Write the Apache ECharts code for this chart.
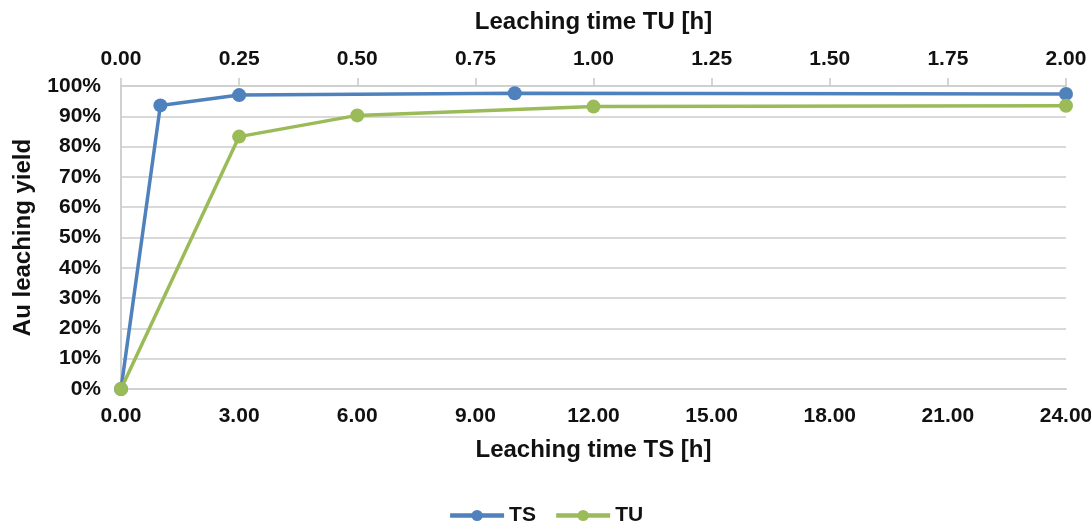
<!DOCTYPE html>
<html><head><meta charset="utf-8">
<script src="https://cdn.jsdelivr.net/npm/echarts@6/dist/echarts.min.js"></script>
<style>html,body{margin:0;padding:0;background:#fff}#c{width:1091px;height:525px}</style>
</head><body><div id="c"></div>
<script>
const tsTime = [0, 1, 3, 10, 24];          // Leaching time TS [h] (bottom axis)
const tsYield = [0, 93.6, 97.0, 97.6, 97.4]; // %
const tuTime = [0, 0.25, 0.5, 1, 2];        // Leaching time TU [h] (top axis)
const tuYield = [0, 83.3, 90.3, 93.2, 93.5]; // %

const font = 'Liberation Sans, Arial, sans-serif';
const lbl = {fontFamily: font, fontWeight: 'bold', fontSize: 21, color: '#111'};
const ttl = {fontFamily: font, fontWeight: 'bold', fontSize: 24, color: '#111'};
const chart = echarts.init(document.getElementById('c'));
chart.setOption({
  animation: false,
  grid: {left: 121, right: 25, top: 86, bottom: 136, outerBoundsMode: 'none', containLabel: false},
  legend: {
    bottom: -6, left: 'center', itemWidth: 54, itemHeight: 14, itemGap: 18,
    lineStyle: {width: 4.5},
    textStyle: {fontFamily: font, fontWeight: 'bold', fontSize: 21, color: '#111'},
    data: ['TS', 'TU']
  },
  xAxis: [
    {type: 'value', position: 'bottom', min: 0, max: 24, interval: 3,
     name: 'Leaching time TS [h]', nameLocation: 'middle', nameGap: 49,
     nameTextStyle: ttl,
     axisLine: {show: true, lineStyle: {color: '#d0d0d0', width: 2}},
     axisTick: {show: false}, splitLine: {show: false},
     axisLabel: Object.assign({margin: 17, formatter: v => v.toFixed(2)}, lbl)},
    {type: 'value', position: 'top', min: 0, max: 2, interval: 0.25,
     name: 'Leaching time TU [h]', nameLocation: 'middle', nameGap: 52,
     nameTextStyle: ttl,
     axisLine: {show: true, lineStyle: {color: '#d0d0d0', width: 2}},
     axisTick: {show: true, length: 8, lineStyle: {color: '#c8c8c8', width: 1.5}},
     splitLine: {show: false},
     axisLabel: Object.assign({margin: 16, formatter: v => v.toFixed(2)}, lbl)}
  ],
  yAxis: {type: 'value', min: 0, max: 100, interval: 10,
    name: 'Au leaching yield', nameLocation: 'middle', nameGap: 86, nameRotate: 90,
    nameTextStyle: ttl,
    axisLine: {show: true, lineStyle: {color: '#d0d0d0', width: 2}},
    axisTick: {show: false},
    splitLine: {show: true, lineStyle: {color: '#d9d9d9', width: 2}},
    axisLabel: Object.assign({margin: 20, formatter: v => v + '%'}, lbl)},
  series: [
    {name: 'TS', type: 'line', xAxisIndex: 0, data: tsTime.map((t, i) => [t, tsYield[i]]),
     symbol: 'circle', symbolSize: 14, clip: false,
     lineStyle: {color: '#4F81BD', width: 3.5}, itemStyle: {color: '#4F81BD'}, z: 3},
    {name: 'TU', type: 'line', xAxisIndex: 1, data: tuTime.map((t, i) => [t, tuYield[i]]),
     symbol: 'circle', symbolSize: 14, clip: false,
     lineStyle: {color: '#9BBB59', width: 3.5}, itemStyle: {color: '#9BBB59'}, z: 4}
  ]
});
</script></body></html>
